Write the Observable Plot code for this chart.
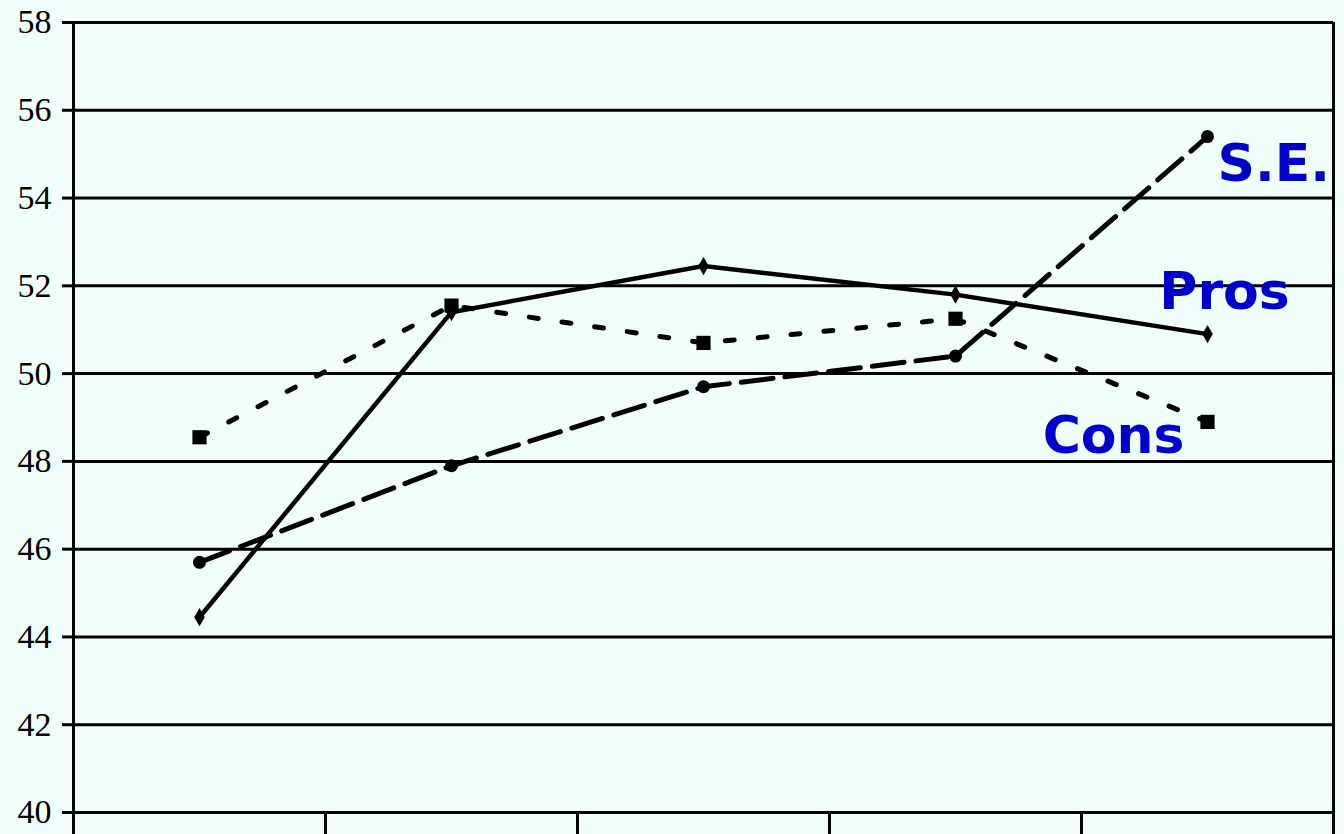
<!DOCTYPE html>
<html>
<head>
<meta charset="utf-8">
<script src="https://cdn.jsdelivr.net/npm/d3@7"></script>
<script src="https://cdn.jsdelivr.net/npm/@observablehq/plot@0.6"></script>
<style>
  html, body { margin: 0; padding: 0; background: #f0fffb; }
  #chart { width: 1344px; height: 834px; overflow: hidden; }
</style>
</head>
<body>
<div id="chart"></div>
<script>
const positions = [0.5, 1.5, 2.5, 3.5, 4.5];
const pros = [44.45, 51.4, 52.45, 51.8, 50.9];
const cons = [48.55, 51.55, 50.7, 51.25, 48.9];
const se   = [45.7, 47.9, 49.7, 50.4, 55.4];
const seriesNames = ["Pros", "Cons", "S.E."];
const yTicks = [40, 42, 44, 46, 48, 50, 52, 54, 56, 58];
const xTicks = [0, 1, 2, 3, 4, 5];

const rows = (vals, name) => vals.map((v, i) => ({x: positions[i], y: v, s: name}));
const prosRows = rows(pros, "Pros");
const consRows = rows(cons, "Cons");
const seRows = rows(se, "S.E.");

const labelFont = {fill: "#0000cc", fontSize: 52, fontWeight: "bold", fontFamily: "DejaVu Sans"};

const chart = Plot.plot({
  width: 1344,
  height: 834,
  marginLeft: 73,
  marginRight: 11,
  marginTop: 22,
  marginBottom: 22,
  style: {background: "#f0fffb", fontFamily: "Liberation Serif", fontSize: "34px", color: "black", overflow: "visible"},
  x: {domain: [0, 5], axis: null},
  y: {domain: [40, 58], axis: null},
  marks: [
    Plot.ruleY(yTicks, {stroke: "black", strokeWidth: 3}),
    Plot.axisY({ticks: yTicks, tickSize: 11, tickPadding: 11, strokeWidth: 3, fontSize: 34, fontFamily: "Liberation Serif", fill: "black", label: null}),
    Plot.axisX({ticks: xTicks, tickSize: 22, tickFormat: () => "", strokeWidth: 3, label: null}),
    Plot.ruleX([0, 5], {stroke: "black", strokeWidth: 3}),
    Plot.line(consRows, {x: "x", y: "y", stroke: "black", strokeWidth: 5, strokeDasharray: "9,24"}),
    Plot.line(seRows, {x: "x", y: "y", stroke: "black", strokeWidth: 5, strokeDasharray: "32,12"}),
    Plot.line(prosRows, {x: "x", y: "y", stroke: "black", strokeWidth: 4.5}),
    Plot.dot(consRows, {x: "x", y: "y", symbol: "square", r: 8, fill: "black"}),
    Plot.dot(seRows, {x: "x", y: "y", symbol: "circle", r: 6.5, fill: "black"}),
    Plot.dot(prosRows, {x: "x", y: "y", symbol: "diamond", r: 5.5, fill: "black"}),
    Plot.text([seRows[4]], {x: "x", y: "y", text: () => seriesNames[2], textAnchor: "start", dx: 10, dy: 28, ...labelFont}),
    Plot.text([prosRows[4]], {x: "x", y: "y", text: () => seriesNames[0], textAnchor: "middle", dx: 17, dy: -42, ...labelFont}),
    Plot.text([consRows[4]], {x: "x", y: "y", text: () => seriesNames[1], textAnchor: "end", dx: -23, dy: 14, ...labelFont})
  ]
});
document.getElementById("chart").appendChild(chart);
</script>
</body>
</html>
